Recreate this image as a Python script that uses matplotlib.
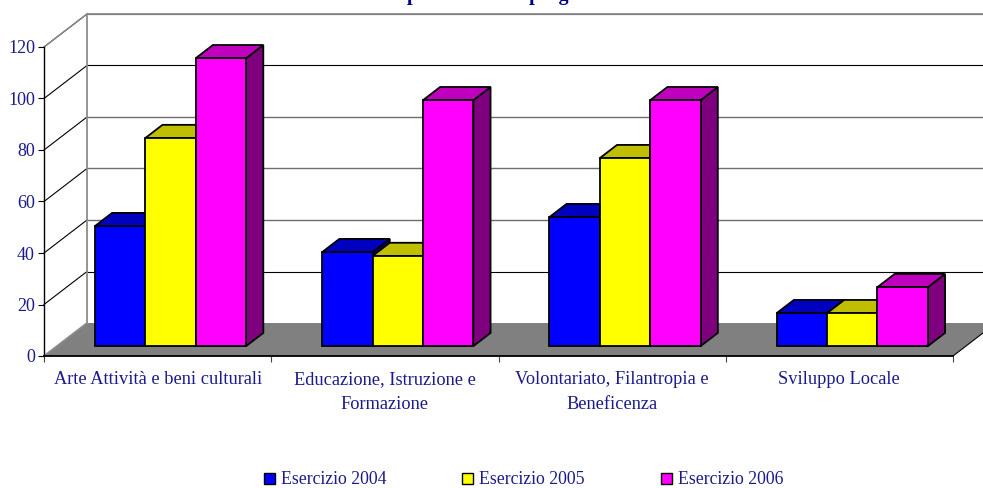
"""
3D-look clustered bars (oblique projection) - Esercizio 2004/2005/2006
"""
import matplotlib.pyplot as plt
import matplotlib as mpl
import numpy as np
from matplotlib.patches import Patch, Polygon

mpl.rcParams.update({
    'font.family': 'Liberation Serif',
    'font.size': 12,
})

categories = ['Arte Attività e beni culturali',
              'Educazione, Istruzione e\nFormazione',
              'Volontariato, Filantropia e\nBeneficenza',
              'Sviluppo Locale']
series_names = ['Esercizio 2004', 'Esercizio 2005', 'Esercizio 2006']
v2004 = [46.6, 36.5, 50.1, 12.8]
v2005 = [80.8, 35.0, 73.0, 12.8]
v2006 = [111.8, 95.5, 95.5, 22.9]
yticks = [0, 20, 40, 60, 80, 100, 120]
gray_grid = [40, 60, 80]

FACE = ['#0000ff', '#ffff00', '#ff00ff']
TOP = ['#0000bf', '#bfbf00', '#bf00bf']
SIDE = ['#00007f', '#7f7f00', '#7f007f']
TEXT = '#1a1a8c'
W, H = 983, 488

fig = plt.figure(figsize=(W / 100, H / 100), dpi=100)
ax = fig.add_axes([44 / W, (H - 356) / H, 909 / W, 309 / H])
ax.set_xlim(0, 4)
ax.set_ylim(0, 120)
ax.patch.set_visible(False)

# wall depth, in data units
DX = 43 / 909 * 4
DY = 33 / 309 * 120


def proj(x, v, d):
    # d = 0 front of the floor, d = 1 back wall
    return (x + DX * d, v + DY * d)


def poly(pts, fc, ec='black', lw=1.3, z=2):
    ax.add_patch(Polygon(pts, closed=True, facecolor=fc, edgecolor=ec,
                         linewidth=lw, zorder=z, clip_on=False,
                         joinstyle='miter'))


# floor
poly([proj(0, 0, 0), proj(4, 0, 0), proj(4, 0, 1), proj(0, 0, 1)],
     '#808080', ec='none', z=1)

# gridlines on side and back wall
for t in yticks[1:]:
    ax.plot(*zip(proj(0, t, 0), proj(0, t, 1)), color='black', lw=0.8,
            zorder=1, clip_on=False)
    back = '#6e6e6e' if t in gray_grid else 'black'
    ax.plot(*zip(proj(0, t, 1), proj(4, t, 1)), color=back,
            lw=1.0 if t in gray_grid else 0.8, zorder=1, clip_on=False)
ax.plot(*zip(proj(0, 0, 0), proj(0, 0, 1), proj(0, 120, 1), proj(4, 120, 1)),
        color='#8c8c8c', lw=1.3, zorder=1.1, clip_on=False)
ax.plot(*zip(proj(0, 120, 0), proj(0, 120, 1)), color='#8c8c8c', lw=1.0,
        zorder=1.1, clip_on=False)
ax.plot(*zip(proj(4, 0, 0), proj(4, 0, 1)), color='black', lw=0.8,
        zorder=1.2, clip_on=False)

# bars, left to right so each one hides the side of its neighbour
GAP = 38 / 227.25
BW = 50.4 / 227.25
D0, D1 = 0.3, 0.7
for i in range(len(categories)):
    for j, vals in enumerate([v2004, v2005, v2006]):
        x0 = i + GAP + j * BW
        x1 = x0 + BW
        v = vals[i]
        z = 3 + j * 0.1
        poly([proj(x1, 0, D0), proj(x1, 0, D1), proj(x1, v, D1), proj(x1, v, D0)],
             SIDE[j], z=z)
        poly([proj(x0, v, D0), proj(x1, v, D0), proj(x1, v, D1), proj(x0, v, D1)],
             TOP[j], z=z)
        poly([proj(x0, 0, D0), proj(x1, 0, D0), proj(x1, v, D0), proj(x0, v, D0)],
             FACE[j], z=z + 0.05)

# axes
for s in ['top', 'right']:
    ax.spines[s].set_visible(False)
ax.spines['left'].set_linewidth(1.0)
ax.spines['bottom'].set_linewidth(1.3)
ax.spines['left'].set_zorder(2)
ax.spines['bottom'].set_zorder(2)
ax.set_yticks(yticks)
ax.set_xticks(np.arange(5))
ax.set_xticklabels([])
ax.tick_params(axis='y', labelsize=13, labelcolor=TEXT, length=4.3, width=0.8, pad=2.2)
ax.tick_params(axis='x', length=4, width=0.8, color='#444444')
ax.set_xticks(np.arange(4) + 0.5, minor=True)
ax.set_xticklabels(categories, minor=True, fontsize=13.2, color=TEXT,
                   linespacing=1.63, va='top')
ax.tick_params(axis='x', which='minor', length=0, pad=11)

# title, cut by the top of the image in the source
fig.text(0.5, 1.0, 'Ripartizione dei progetti', ha='center', va='baseline',
         fontsize=14.4, fontweight='bold', color='#000080')

handles = [Patch(facecolor=FACE[k], edgecolor='black', linewidth=1.0)
           for k in range(3)]
fig.legend(handles, series_names, loc='center', bbox_to_anchor=(523.5 / W, 1 - 480 / H),
           ncol=3, frameon=False, fontsize=12.75, labelcolor=TEXT,
           handlelength=0.62, handleheight=0.62, handletextpad=0.34,
           columnspacing=4.3, borderpad=0)

fig.savefig('out.png', dpi=100)
